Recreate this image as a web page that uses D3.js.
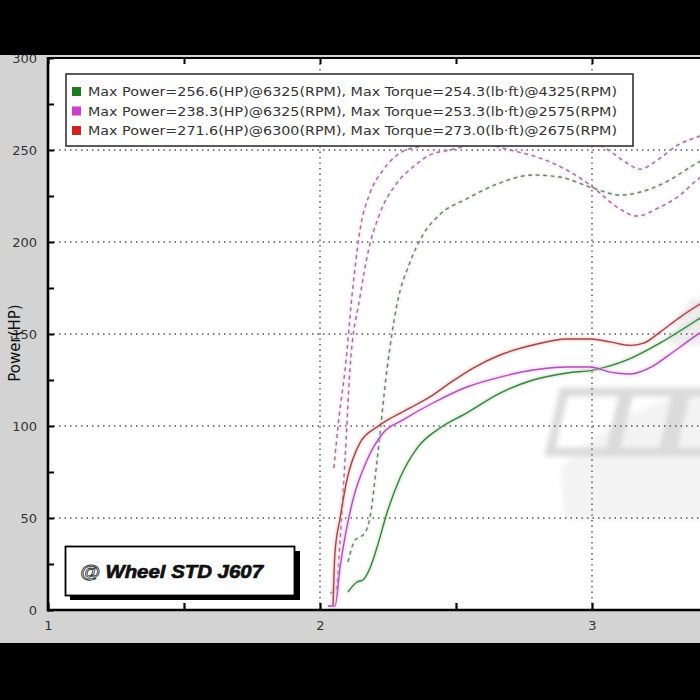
<!DOCTYPE html>
<html>
<head>
<meta charset="utf-8">
<script src="https://cdn.jsdelivr.net/npm/d3@7"></script>
<style>
html,body{margin:0;padding:0;background:#000;}
svg{display:block;}
</style>
</head>
<body>
<svg id="chart" width="700" height="700"></svg>
<script>
// ---------- DATA ----------
const xTickValues = [1, 1.5, 2, 2.5, 3, 3.5];
const xTickLabels = ["1", "", "2", "", "3", ""];
const yTickValues = [0, 25, 50, 75, 100, 125, 150, 175, 200, 225, 250, 275, 300];
const yTickLabels = ["0", "", "50", "", "100", "", "150", "", "200", "", "250", "", "300"];
const yGridValues = [50, 100, 150, 200, 250];
const xGridValues = [2, 3];

const legendLabels = [
  "Max Power=256.6(HP)@6325(RPM), Max Torque=254.3(lb\u00b7ft)@4325(RPM)",
  "Max Power=238.3(HP)@6325(RPM), Max Torque=253.3(lb\u00b7ft)@2575(RPM)",
  "Max Power=271.6(HP)@6300(RPM), Max Torque=273.0(lb\u00b7ft)@2675(RPM)"
];
const legendColors = ["#1f7a1f", "#cc3fcc", "#cc2222"];
const stampText = "Wheel STD J607";

// Power (solid)
const redPowerX = [2.048, 2.055, 2.074, 2.099, 2.147, 2.210, 2.268, 2.331, 2.404, 2.478, 2.563, 2.662, 2.783, 2.908, 2.993, 3.066, 3.140, 3.190, 3.250, 3.324, 3.397, 3.471];
const redPowerY = [2.7, 31.0, 50.0, 70.7, 90.8, 99.5, 104.9, 109.8, 115.8, 123.4, 131.5, 138.6, 144.0, 147.3, 147.3, 145.7, 143.8, 145.0, 151.0, 159.2, 166.3, 172.8];

const magentaPowerX = [2.029, 2.055, 2.074, 2.092, 2.121, 2.173, 2.232, 2.305, 2.415, 2.540, 2.662, 2.783, 2.908, 2.993, 3.066, 3.140, 3.224, 3.298, 3.386, 3.471];
const magentaPowerY = [2.2, 2.2, 23.4, 39.7, 59.8, 81.5, 96.2, 103.3, 112.5, 121.2, 126.6, 130.4, 132.1, 132.1, 129.3, 128.3, 132.6, 140.2, 149.5, 157.6];

const greenPowerX = [2.103, 2.136, 2.158, 2.184, 2.210, 2.246, 2.294, 2.357, 2.441, 2.540, 2.662, 2.783, 2.908, 3.004, 3.129, 3.250, 3.386, 3.471];
const greenPowerY = [9.8, 15.2, 16.3, 22.8, 34.2, 52.7, 71.7, 88.0, 98.9, 107.1, 117.9, 125.0, 128.8, 130.4, 135.9, 145.1, 157.6, 165.8];

// Torque (dashed)
const redTorqueX = [2.051, 2.070, 2.092, 2.121, 2.147, 2.184, 2.232, 2.294, 2.357, 2.420, 2.551, 2.699, 2.809, 2.919, 3.011, 3.055, 3.129, 3.176, 3.250, 3.313, 3.386, 3.471];
const redTorqueY = [77.2, 105.0, 130.4, 175.5, 206.5, 226.6, 239.1, 248.4, 251.6, 253.5, 262.0, 270.7, 272.5, 263.6, 254.3, 250.5, 242.9, 239.6, 245.5, 252.5, 257.0, 261.0];

const magentaTorqueX = [2.037, 2.059, 2.074, 2.092, 2.110, 2.147, 2.176, 2.221, 2.283, 2.342, 2.404, 2.478, 2.588, 2.699, 2.846, 2.993, 3.092, 3.165, 3.250, 3.324, 3.386, 3.471];
const magentaTorqueY = [9.2, 10.9, 38.0, 81.5, 130.4, 170.1, 194.0, 215.8, 232.1, 240.8, 247.3, 250.0, 253.3, 250.0, 243.5, 231.0, 219.0, 214.1, 219.0, 225.5, 233.7, 240.2];

const greenTorqueX = [2.103, 2.129, 2.147, 2.165, 2.184, 2.210, 2.246, 2.283, 2.331, 2.379, 2.441, 2.540, 2.662, 2.783, 2.882, 3.004, 3.103, 3.250, 3.386, 3.471];
const greenTorqueY = [26.1, 38.0, 39.7, 41.8, 50.5, 81.5, 130.4, 166.0, 189.0, 204.0, 215.0, 223.5, 232.1, 236.4, 235.3, 229.3, 225.5, 231.0, 242.9, 250.0];

// ---------- LAYOUT ----------
const W = 700, H = 700;
const plotLeft = 48, plotBottom = 610, plotTop = 58;
const svg = d3.select("#chart");

const x = d3.scaleLinear().domain([1, 4]).range([plotLeft, plotLeft + 3 * 272]);
const y = d3.scaleLinear().domain([0, 300]).range([plotBottom, plotTop]);

// background
svg.append("rect").attr("x", 0).attr("y", 0).attr("width", W).attr("height", H).attr("fill", "#d3d3d3");
svg.append("rect").attr("x", plotLeft).attr("y", plotTop).attr("width", W - plotLeft).attr("height", plotBottom - plotTop).attr("fill", "#ffffff");

const defs = svg.append("defs");
defs.append("clipPath").attr("id", "plotClip").append("rect")
  .attr("x", plotLeft).attr("y", plotTop).attr("width", W - plotLeft).attr("height", plotBottom - plotTop);
defs.append("filter").attr("id", "blurWM").append("feGaussianBlur").attr("stdDeviation", 2.5);
defs.append("filter").attr("id", "glow").append("feGaussianBlur").attr("stdDeviation", 1.2);

// watermark (faint logo)
const wm = svg.append("g").attr("clip-path", "url(#plotClip)").attr("filter", "url(#blurWM)").attr("opacity", 0.75);
wm.append("path").attr("d", "M560,470 C600,420 660,400 720,380 L720,520 C680,520 620,520 565,520 Z")
  .attr("fill", "#f0f0f0");
wm.append("path").attr("d", "M665,345 L690,300 L720,295 L720,345 Z").attr("fill", "#e8e8e8");
const para = (x0, y0, w, h, sk) => `M${x0+sk},${y0} L${x0+w+sk},${y0} L${x0+w},${y0+h} L${x0},${y0+h} Z`;
[[550, 392, 60, 60, 14], [615, 392, 48, 60, 14], [672, 392, 60, 60, 14]].forEach(p => {
  wm.append("path").attr("d", para(...p)).attr("fill", "none").attr("stroke", "#cfcfcf").attr("stroke-width", 9);
});

// grid
const grid = svg.append("g");
yGridValues.forEach(v => {
  grid.append("line").attr("x1", plotLeft).attr("x2", W).attr("y1", y(v)).attr("y2", y(v))
    .attr("stroke", "#555").attr("stroke-width", 1.4).attr("stroke-dasharray", "1.5,4");
});
xGridValues.forEach(v => {
  grid.append("line").attr("x1", x(v)).attr("x2", x(v)).attr("y1", plotTop).attr("y2", plotBottom)
    .attr("stroke", "#555").attr("stroke-width", 1.4).attr("stroke-dasharray", "1.5,4");
});

// curves
const line = d3.line().x(d => x(d[0])).y(d => y(d[1])).curve(d3.curveMonotoneX);
const zip = (a, b) => a.map((v, i) => [v, b[i]]);
const series = [
  {xs: greenTorqueX, ys: greenTorqueY, color: "#6f7f6f", halo: "#c4dcc4", dash: "4,3.5"},
  {xs: magentaTorqueX, ys: magentaTorqueY, color: "#9a7494", halo: "#f2c4f0", dash: "4,3.5"},
  {xs: redTorqueX, ys: redTorqueY, color: "#9a7494", halo: "#f2c4f0", dash: "4,3.5"},
  {xs: greenPowerX, ys: greenPowerY, color: "#3f7f45", halo: "#b8dcb8", dash: null},
  {xs: magentaPowerX, ys: magentaPowerY, color: "#a65aae", halo: "#f3b6f3", dash: null},
  {xs: redPowerX, ys: redPowerY, color: "#9b4a4e", halo: "#f0b8b8", dash: null}
];
const curves = svg.append("g").attr("clip-path", "url(#plotClip)");
series.forEach(s => {
  const data = zip(s.xs, s.ys);
  curves.append("path").datum(data).attr("d", line).attr("fill", "none")
    .attr("stroke", s.halo).attr("stroke-width", 4).attr("opacity", 0.55)
    .attr("stroke-dasharray", s.dash).attr("filter", "url(#glow)");
  curves.append("path").datum(data).attr("d", line).attr("fill", "none")
    .attr("stroke", s.color).attr("stroke-width", 1.4)
    .attr("stroke-dasharray", s.dash);
});

// axes
const yAxis = d3.axisLeft(y).tickValues(yTickValues).tickSize(-6).tickPadding(11)
  .tickFormat((d, i) => yTickLabels[i]);
const gy = svg.append("g").attr("transform", `translate(${plotLeft},0)`).call(yAxis);
gy.select(".domain").remove();
gy.selectAll(".tick line").attr("stroke", "#000").attr("stroke-width", 2);
gy.selectAll(".tick text").attr("font-family", "DejaVu Sans, Verdana, sans-serif").attr("font-size", 13).attr("fill", "#333");

const xAxis = d3.axisBottom(x).tickValues(xTickValues).tickSize(-7).tickPadding(11)
  .tickFormat((d, i) => xTickLabels[i]);
const gx = svg.append("g").attr("transform", `translate(0,${plotBottom})`).call(xAxis);
gx.select(".domain").remove();
gx.selectAll(".tick line").attr("stroke", "#000").attr("stroke-width", 2.2);
gx.selectAll(".tick text").attr("font-family", "DejaVu Sans, Verdana, sans-serif").attr("font-size", 13).attr("fill", "#333");

const xTop = d3.axisTop(x).tickValues(xTickValues).tickSize(-6).tickFormat("");
const gt = svg.append("g").attr("transform", `translate(0,${plotTop})`).call(xTop);
gt.select(".domain").remove();
gt.selectAll(".tick line").attr("stroke", "#000").attr("stroke-width", 2);

// frame lines
svg.append("line").attr("x1", plotLeft).attr("x2", W).attr("y1", plotTop).attr("y2", plotTop).attr("stroke", "#000").attr("stroke-width", 2);
svg.append("line").attr("x1", plotLeft).attr("x2", plotLeft).attr("y1", plotTop - 1).attr("y2", plotBottom + 1.5).attr("stroke", "#000").attr("stroke-width", 2.6);
svg.append("line").attr("x1", plotLeft).attr("x2", W).attr("y1", plotBottom).attr("y2", plotBottom).attr("stroke", "#000").attr("stroke-width", 2.6);

// y title
svg.append("text").attr("transform", "translate(20,343) rotate(-90)").attr("text-anchor", "middle")
  .attr("font-family", "DejaVu Sans, Verdana, sans-serif").attr("font-size", 15).attr("fill", "#111")
  .text("Power(HP)");

// legend
const lg = svg.append("g");
lg.append("rect").attr("x", 66).attr("y", 74).attr("width", 567).attr("height", 72)
  .attr("fill", "#fff").attr("stroke", "#333").attr("stroke-width", 1.6);
legendLabels.forEach((t, i) => {
  const cy = 91.5 + i * 19.5;
  lg.append("rect").attr("x", 72).attr("y", cy - 4.5).attr("width", 9).attr("height", 9).attr("fill", legendColors[i]);
  lg.append("text").attr("x", 88).attr("y", cy + 4.6)
    .attr("font-family", "DejaVu Sans, Verdana, sans-serif").attr("font-size", 13).attr("fill", "#333")
    .attr("textLength", 529).attr("lengthAdjust", "spacingAndGlyphs")
    .text(t);
});

// stamp box
const sb = svg.append("g");
sb.append("rect").attr("x", 70).attr("y", 551).attr("width", 230).attr("height", 49).attr("fill", "#000");
sb.append("rect").attr("x", 65.5).attr("y", 546.5).attr("width", 229).attr("height", 49)
  .attr("fill", "#fff").attr("stroke", "#000").attr("stroke-width", 1.8);
const st = sb.append("text").attr("x", 80).attr("y", 577.5)
  .attr("font-family", "Liberation Sans, Arial, sans-serif").attr("font-size", 18.5)
  .attr("font-style", "italic").attr("font-weight", "bold")
  .attr("textLength", 183).attr("lengthAdjust", "spacingAndGlyphs");
st.append("tspan").attr("fill", "#fff").attr("stroke", "#333").attr("stroke-width", 0.8).text("@");
st.append("tspan").attr("fill", "#111").attr("stroke", "#111").attr("stroke-width", 0.7).attr("dx", 5).text(stampText);

// black bands
svg.append("rect").attr("x", 0).attr("y", 0).attr("width", W).attr("height", 55).attr("fill", "#000");
svg.append("rect").attr("x", 0).attr("y", 643).attr("width", W).attr("height", 57).attr("fill", "#000");
</script>
</body>
</html>
